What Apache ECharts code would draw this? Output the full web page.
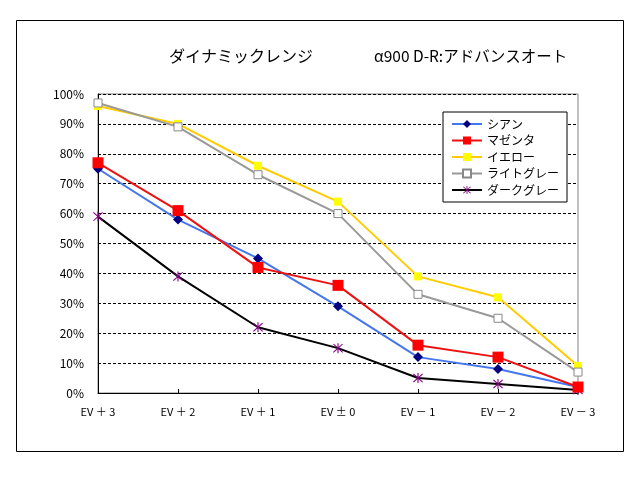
<!DOCTYPE html>
<html><head><meta charset="utf-8">
<script src="https://cdn.jsdelivr.net/npm/echarts@6/dist/echarts.min.js"></script>
<style>html,body{margin:0;padding:0;background:#fff}#c{width:640px;height:480px}</style>
</head><body><div id="c"></div>
<script>
var categories = ['EV ＋ 3','EV ＋ 2','EV ＋ 1','EV ± 0','EV － 1','EV － 2','EV － 3'];
var cyan = [75, 58, 45, 29, 12, 8, 2];
var magenta = [77, 61, 42, 36, 16, 12, 2];
var yellow = [96, 90, 76, 64, 39, 32, 9];
var lightGray = [97, 89, 73, 60, 33, 25, 7];
var darkGray = [59, 39, 22, 15, 5, 3, 1];
var seriesNames = ['シアン','マゼンタ','イエロー','ライトグレー','ダークグレー'];
var titleLeft = 'ダイナミックレンジ';
var titleRight = 'α900 D-R:アドバンスオート';

var FONT = '"Noto Sans CJK JP", sans-serif';
var asterisk = 'path://M9,0 L11,0 L11,20 L9,20 Z M1,2.4 L2.4,1 L19,17.6 L17.6,19 Z M17.6,1 L19,2.4 L2.4,19 L1,17.6 Z';

var chart = echarts.init(document.getElementById('c'), null, {renderer: 'canvas'});
chart.setOption({
  animation: false,
  backgroundColor: '#fff',
  textStyle: {fontFamily: FONT},
  title: [
    {text: titleLeft, left: 164, top: 43, textStyle: {fontFamily: FONT, fontSize: 16, fontWeight: 'normal', color: '#000'}},
    {text: titleRight, left: 369, top: 43, textStyle: {fontFamily: FONT, fontSize: 15.5, fontWeight: 'normal', color: '#000'}}
  ],
  graphic: [
    {type: 'rect', shape: {x: 16.5, y: 20.5, width: 607, height: 431}, style: {fill: null, stroke: '#000', lineWidth: 1}, z: -1}
  ],
  legend: {
    orient: 'vertical', left: 443, top: 112, width: 124,
    padding: [6, 8, 6, 8],
    backgroundColor: '#fff', borderColor: '#000', borderWidth: 1,
    itemWidth: 30, itemHeight: 10, itemGap: 4.5,
    textStyle: {fontFamily: FONT, fontSize: 12, color: '#000'},
    data: seriesNames
  },
  grid: {left: 98, right: 62, top: 94, bottom: 87, show: true, borderColor: '#808080', borderWidth: 1, backgroundColor: 'transparent'},
  xAxis: {
    type: 'category', data: categories, boundaryGap: false,
    axisLine: {lineStyle: {color: '#000', width: 1}},
    axisTick: {show: true, length: 4, inside: true, lineStyle: {color: '#000'}},
    axisLabel: {margin: 13, fontSize: 11, color: '#000', fontFamily: FONT},
    splitLine: {show: false}
  },
  yAxis: {
    type: 'value', min: 0, max: 100, interval: 10,
    axisLine: {show: true, lineStyle: {color: '#000', width: 1}},
    axisTick: {show: false},
    axisLabel: {formatter: '{value}%', margin: 14, fontSize: 12, color: '#000', fontFamily: FONT},
    splitLine: {show: true, lineStyle: {color: '#000', type: [3, 2], width: 1}}
  },
  series: [
    {name: seriesNames[0], type: 'line', data: cyan, symbol: 'diamond', symbolSize: 10,
     lineStyle: {color: '#4477EE', width: 2}, itemStyle: {color: '#000080'}, z: 5},
    {name: seriesNames[1], type: 'line', data: magenta, symbol: 'rect', symbolSize: 11,
     lineStyle: {color: '#EE1111', width: 2}, itemStyle: {color: '#FF0000'}, z: 6},
    {name: seriesNames[2], type: 'line', data: yellow, symbol: 'rect', symbolSize: 8,
     lineStyle: {color: '#FFCC00', width: 2}, itemStyle: {color: '#FFFF00'}, z: 3},
    {name: seriesNames[3], type: 'line', data: lightGray, symbol: 'rect', symbolSize: 8,
     lineStyle: {color: '#999999', width: 2}, itemStyle: {color: '#fff', borderColor: '#888888', borderWidth: 1}, z: 4},
    {name: seriesNames[4], type: 'line', data: darkGray, symbol: asterisk, symbolSize: 10,
     lineStyle: {color: '#000', width: 2}, itemStyle: {color: '#800080'}, z: 2}
  ]
});
</script></body></html>
